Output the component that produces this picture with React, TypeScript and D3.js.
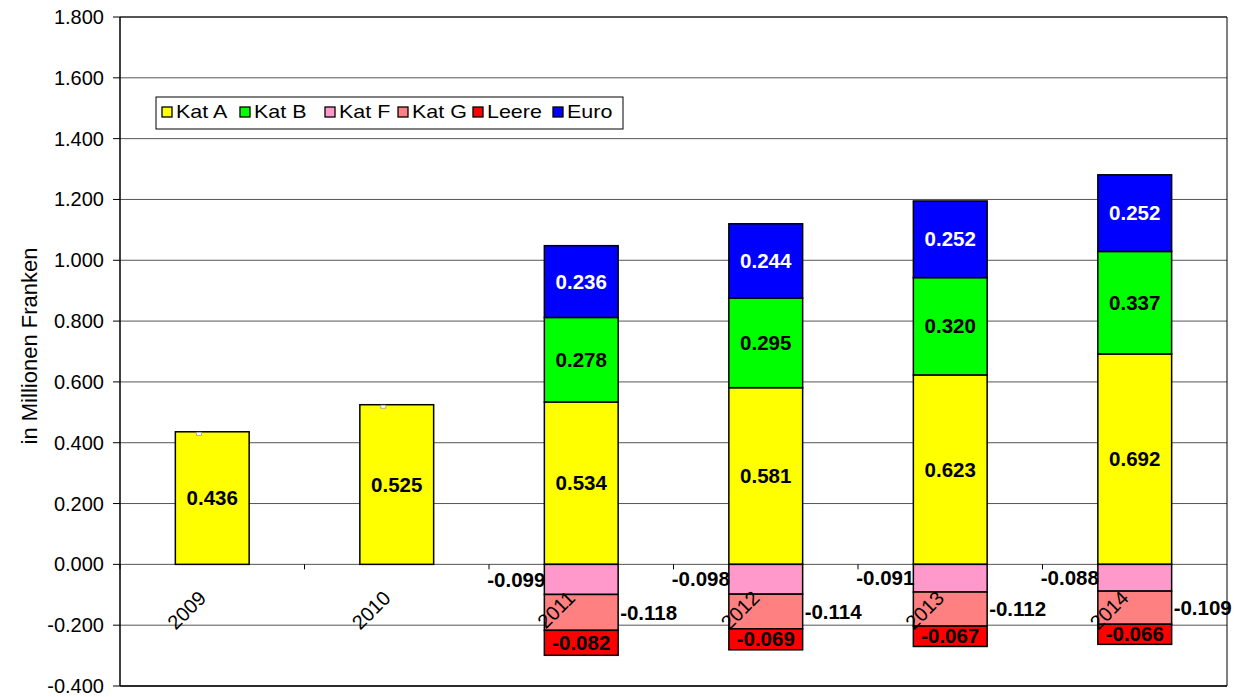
import React from "react";
import * as d3 from "d3";

const years = ["2009", "2010", "2011", "2012", "2013", "2014"];
const katA = [0.436, 0.525, 0.534, 0.581, 0.623, 0.692];
const katB = [0, 0, 0.278, 0.295, 0.32, 0.337];
const katF = [0, 0, -0.099, -0.098, -0.091, -0.088];
const katG = [0, 0, -0.118, -0.114, -0.112, -0.109];
const leere = [0, 0, -0.082, -0.069, -0.067, -0.066];
const euro = [0, 0, 0.236, 0.244, 0.252, 0.252];
const yTicks = [-0.4, -0.2, 0, 0.2, 0.4, 0.6, 0.8, 1.0, 1.2, 1.4, 1.6, 1.8];

const seriesNames = ["Kat A", "Kat B", "Kat F", "Kat G", "Leere", "Euro"];
const seriesValues = [katA, katB, katF, katG, leere, euro];
const colors = ["#FFFF00", "#00FF00", "#FF99CC", "#FF8080", "#FF0000", "#0000FF"];

const W = 1242, H = 697;
const L = 120, R = 1227, T = 17, B = 686;
const FONT = "Liberation Sans, Arial, sans-serif";

const fmt0 = d3.format(".3f");
const fmt = (v: number) => fmt0(v).replace("\u2212", "-");

export default function App() {
  const y = d3.scaleLinear().domain([-0.4, 1.8]).range([B, T]);
  const x = d3.scaleBand<string>().domain(years).range([L, R]).paddingInner(0.6).paddingOuter(0.3);
  const step = x.step();

  const table = years.map((yr, i) => {
    const row: any = { year: yr };
    seriesNames.forEach((s, k) => (row[s] = seriesValues[k][i]));
    return row;
  });
  const stack = d3.stack<any>().keys(seriesNames).offset(d3.stackOffsetDiverging);
  const stacked = stack(table);

  // legend layout
  const legX = 156, legY = 97, legW = 467, legH = 32;
  const legItemX = [162, 240, 325, 398, 473, 553];

  return (
    <svg width={W} height={H} style={{ position: "absolute", left: 0, top: 0, background: "#fff" }} fontFamily={FONT}>
      <rect x={0} y={0} width={W} height={H} fill="#fff" />
      {/* gridlines */}
      {yTicks.map((t) => (
        <line key={"g" + t} x1={L} x2={R} y1={y(t)} y2={y(t)} stroke="#555" strokeWidth={1} />
      ))}
      {/* y ticks & labels */}
      {yTicks.map((t) => (
        <g key={"t" + t}>
          <line x1={L - 7} x2={L} y1={y(t)} y2={y(t)} stroke="#000" />
          <text x={104} y={y(t)} dy="0.35em" textAnchor="end" fontSize={20} fill="#000">
            {fmt(t)}
          </text>
        </g>
      ))}
      {/* category ticks at zero line */}
      {years.map((yr, i) => (
        <line key={"ct" + yr} x1={L + step * i} x2={L + step * i} y1={y(0)} y2={y(0) + 5} stroke="#000" />
      ))}
      {/* bars */}
      {stacked.map((s, k) => (
        <g key={s.key}>
          {s.map((d, i) => {
            const v = seriesValues[k][i];
            if (v === 0) return null;
            const y0 = y(Math.max(d[0], d[1]));
            const y1 = y(Math.min(d[0], d[1]));
            return (
              <rect key={i} x={x(years[i])} y={y0} width={x.bandwidth()} height={y1 - y0}
                fill={colors[k]} stroke="#000" strokeWidth={1.5} />
            );
          })}
        </g>
      ))}
      {/* small markers on top of single-segment bars */}
      {years.map((yr, i) =>
        euro[i] === 0 ? (
          <rect key={"m" + yr} x={(x(yr) as number) + 21} y={y(katA[i]) + 0.5} width={5} height={3}
            fill="#fff" stroke="#999" strokeWidth={0.8} />
        ) : null
      )}
      {/* category labels */}
      {years.map((yr) => (
        <text key={"cl" + yr} fontSize={20} textAnchor="end"
          transform={`translate(${(x(yr) as number) + x.bandwidth() / 2 - 5},${y(0) + 35}) rotate(-45)`}>
          {yr}
        </text>
      ))}
      {/* value labels */}
      {stacked.map((s, k) => (
        <g key={"l" + s.key}>
          {s.map((d, i) => {
            const v = seriesValues[k][i];
            if (v === 0) return null;
            const xs = x(years[i]) as number;
            const bw = x.bandwidth();
            const cy = (y(d[0]) + y(d[1])) / 2;
            const name = seriesNames[k];
            let tx = xs + bw / 2, anchor = "middle", fill = "#000";
            if (name === "Kat F") { tx = xs + 1; anchor = "end"; }
            else if (name === "Kat G") { tx = xs + bw + 2; anchor = "start"; }
            else if (name === "Euro") { fill = "#fff"; }
            return (
              <text key={i} x={tx} y={cy} dy="0.35em" textAnchor={anchor} fontSize={20.5}
                fontWeight="bold" fill={fill}>
                {fmt(v)}
              </text>
            );
          })}
        </g>
      ))}
      {/* plot border */}
      <line x1={L} x2={L} y1={T} y2={B} stroke="#000" strokeWidth={1.5} />
      <line x1={L} x2={R} y1={T} y2={T} stroke="#000" strokeWidth={1} />
      <line x1={R} x2={R} y1={T} y2={B} stroke="#000" strokeWidth={1} />
      <line x1={L} x2={R} y1={B} y2={B} stroke="#000" strokeWidth={1.5} />
      {/* y-axis title */}
      <text transform={`translate(37,346) rotate(-90)`} textAnchor="middle" fontSize={22}>
        in Millionen Franken
      </text>
      {/* legend */}
      <rect x={legX} y={legY} width={legW} height={legH} fill="#fff" stroke="#000" strokeWidth={1} />
      {seriesNames.map((s, k) => (
        <g key={"lg" + s}>
          <rect x={legItemX[k]} y={legY + 10} width={10} height={10} fill={colors[k]} stroke="#000" strokeWidth={1.3} />
          <text transform={`translate(${legItemX[k] + 14},${legY + 21}) scale(1.13,1)`} fontSize={19}>{s}</text>
        </g>
      ))}
    </svg>
  );
}
